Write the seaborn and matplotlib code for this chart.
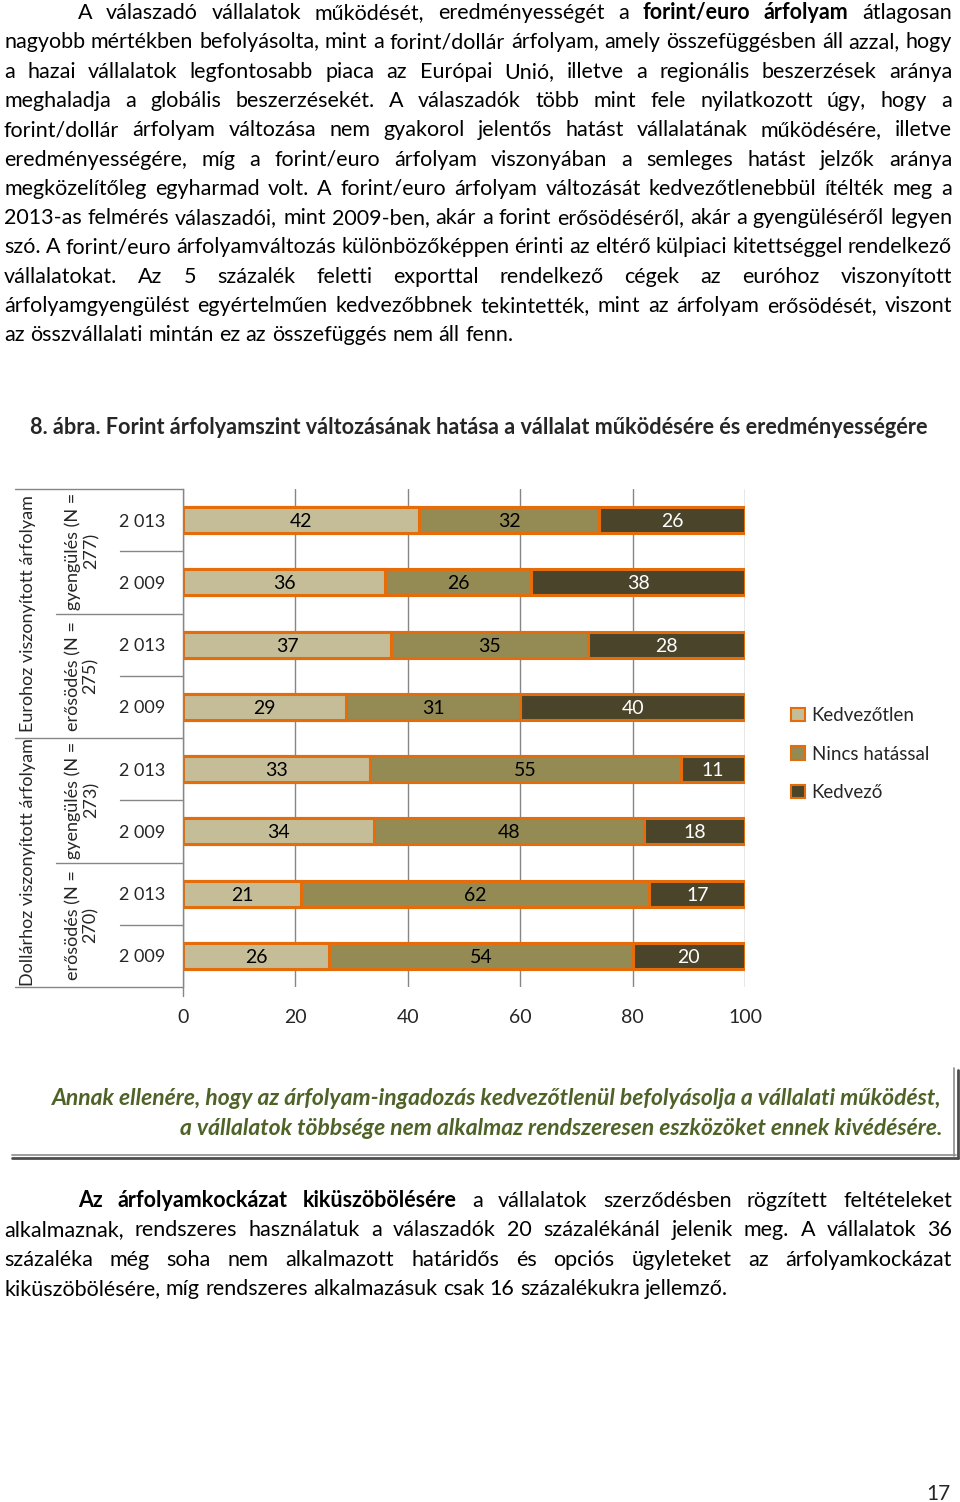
import numpy as np
import pandas as pd
import seaborn as sns
from matplotlib import pyplot as plt
from matplotlib.patches import Patch
from matplotlib.transforms import blended_transform_factory

# Chart data (percent of respondents), rows top to bottom
rows = ["eur_gy_2013", "eur_gy_2009", "eur_er_2013", "eur_er_2009",
        "usd_gy_2013", "usd_gy_2009", "usd_er_2013", "usd_er_2009"]
years = ["2 013", "2 009", "2 013", "2 009", "2 013", "2 009", "2 013", "2 009"]
groups = ["gyengülés (N =\n277)", "erősödés (N =\n275)",
          "gyengülés (N =\n273)", "erősödés (N =\n270)"]
currencies = ["Eurohoz viszonyított árfolyam", "Dollárhoz viszonyított árfolyam"]
series = ["Kedvezőtlen", "Nincs hatással", "Kedvező"]
kedvezotlen = [42, 36, 37, 29, 33.3, 34, 21, 26]
nincs_hatassal = [32, 26, 35, 31, 55.3, 48, 62, 54]
kedvezo = [26, 38, 28, 40, 11.4, 18, 17, 20]

colors = ["#C4BD97", "#948A54", "#4A452A"]
label_colors = ["black", "black", "white"]
orange = "#E46C0A"
grid_gray = "#868686"

para1 = [
    [("A válaszadó vállalatok működését, eredményességét a", False), ("forint/euro árfolyam", True), ("átlagosan", False)],
    [("nagyobb mértékben befolyásolta, mint a forint/dollár árfolyam, amely összefüggésben áll azzal, hogy", False)],
    [("a hazai vállalatok legfontosabb piaca az Európai Unió, illetve a regionális beszerzések aránya", False)],
    [("meghaladja a globális beszerzésekét. A válaszadók több mint fele nyilatkozott úgy, hogy a", False)],
    [("forint/dollár árfolyam változása nem gyakorol jelentős hatást vállalatának működésére, illetve", False)],
    [("eredményességére, míg a forint/euro árfolyam viszonyában a semleges hatást jelzők aránya", False)],
    [("megközelítőleg egyharmad volt. A forint/euro árfolyam változását kedvezőtlenebbül ítélték meg a", False)],
    [("2013-as felmérés válaszadói, mint 2009-ben, akár a forint erősödéséről, akár a gyengüléséről legyen", False)],
    [("szó. A forint/euro árfolyamváltozás különbözőképpen érinti az eltérő külpiaci kitettséggel rendelkező", False)],
    [("vállalatokat. Az 5 százalék feletti exporttal rendelkező cégek az euróhoz viszonyított", False)],
    [("árfolyamgyengülést egyértelműen kedvezőbbnek tekintették, mint az árfolyam erősödését, viszont", False)],
    [("az összvállalati mintán ez az összefüggés nem áll fenn.", False)],
]
para2 = [
    [("Az árfolyamkockázat kiküszöbölésére", True), ("a vállalatok szerződésben rögzített feltételeket", False)],
    [("alkalmaznak, rendszeres használatuk a válaszadók 20 százalékánál jelenik meg. A vállalatok 36", False)],
    [("százaléka még soha nem alkalmazott határidős és opciós ügyleteket az árfolyamkockázat", False)],
    [("kiküszöbölésére, míg rendszeres alkalmazásuk csak 16 százalékukra jellemző.", False)],
]
figure_title = "8. ábra. Forint árfolyamszint változásának hatása a vállalat működésére és eredményességére"
box_lines = ["Annak ellenére, hogy az árfolyam-ingadozás kedvezőtlenül befolyásolja a vállalati működést,",
             "a vállalatok többsége nem alkalmaz rendszeresen eszközöket ennek kivédésére."]

sns.set_style("white")
plt.rcParams["font.family"] = ["Lato", "DejaVu Sans"]

W, H = 960, 1502
fig = plt.figure(figsize=(W / 100, H / 100), dpi=100)
renderer = fig.canvas.get_renderer()

# page layer in pixel coordinates
page = fig.add_axes([0, 0, 1, 1])
page.set_xlim(0, W)
page.set_ylim(H, 0)
page.axis("off")


def text_width(s, size, weight="normal", style="normal"):
    t = page.text(0, 0, s, fontsize=size, fontweight=weight, fontstyle=style)
    w = t.get_window_extent(renderer).width
    t.remove()
    return w


def split_words(line):
    return [(w, b) for seg, b in line for w in seg.split()]


def paragraph(lines, baseline0, base, dy=29.3, indent=78, left=4, right=952, min_gap=4.5):
    space = text_width("a a", base) - text_width("aa", base)
    for i, line in enumerate(lines):
        words = split_words(line)
        x0 = indent if i == 0 else left
        y = baseline0 + i * dy
        last = i == len(lines) - 1
        size = base
        if not last:
            # shrink a line only when it cannot fit at the base size
            total = sum(text_width(w, base, "bold" if b else "normal") for w, b in words)
            size = min(base, base * (right - x0 - min_gap * (len(words) - 1)) / total)
        arts = [page.text(0, y, w, fontsize=size, va="baseline", ha="left",
                          fontweight="bold" if b else "normal", color="black")
                for w, b in words]
        widths = [a.get_window_extent(renderer).width for a in arts]
        gap = space if last else (right - x0 - sum(widths)) / (len(words) - 1)
        x = x0
        for a, w in zip(arts, widths):
            a.set_x(x)
            x += w + gap


paragraph(para1, 19, 15.5)
paragraph(para2, 1207, 15.5)

# figure caption, fitted to its width in the reference
cap_size = 14.5 * 895 / text_width(figure_title, 14.5, "bold")
page.text(30, 434, figure_title, fontsize=cap_size, fontweight="bold", va="baseline", ha="left")

# highlighted box text
box_size = 14.5 * 887 / text_width(box_lines[0], 14.5, "bold", "italic")
for i, line in enumerate(box_lines):
    page.text(942, 1105 + i * 30, line, fontsize=box_size, fontweight="bold", fontstyle="italic",
              color="#4F6228", va="baseline", ha="right")
page.plot([12, 956], [1155, 1155], color="#8C8C8C", lw=1.2)
page.plot([12, 958], [1158, 1158], color="#4D4D4D", lw=2)
page.plot([954, 954], [1068, 1156], color="#8C8C8C", lw=1.2)
page.plot([957.5, 957.5], [1070, 1158], color="#4D4D4D", lw=2)

page.text(951, 1500, "17", fontsize=15, ha="right", va="baseline")

# ---- stacked bar chart ----
px_left, px_right, px_top, px_bottom = 183, 745, 489, 987
ax = fig.add_axes([px_left / W, 1 - px_bottom / H, (px_right - px_left) / W, (px_bottom - px_top) / H])

df = pd.DataFrame({"row": rows, series[0]: kedvezotlen, series[1]: nincs_hatassal, series[2]: kedvezo})
cum = df[series].cumsum(axis=1)

# draw cumulative totals from the longest to the shortest so each segment shows
for s, c in zip(reversed(series), reversed(colors)):
    sns.barplot(x=cum[s], y=df["row"], order=rows, orient="h", color=c, saturation=1,
                edgecolor=orange, linewidth=2.2, width=0.42, errorbar=None, ax=ax)

for j, s in enumerate(series):
    centers = cum[s] - df[s] / 2
    for i, (cx, v) in enumerate(zip(centers, df[s])):
        ax.text(cx, i, f"{v:.0f}", ha="center", va="center_baseline", fontsize=14,
                color=label_colors[j])

ax.set_xlim(0, 100)
ax.set_ylim(len(rows) - 0.5, -0.5)
ax.set_xticks(np.arange(0, 101, 20))
ax.set_yticks(range(len(rows)))
ax.set_yticklabels(years)
ax.set_xlabel("")
ax.set_ylabel("")
ax.tick_params(axis="y", length=0, pad=13, labelsize=13)
ax.tick_params(axis="x", length=0, pad=16, labelsize=14)
ax.xaxis.grid(True, color=grid_gray, lw=1)
ax.set_axisbelow(True)
for side in ["top", "right", "bottom"]:
    ax.spines[side].set_visible(False)
ax.spines["left"].set_color(grid_gray)
ax.spines["left"].set_linewidth(1)
ax.plot([0, 0], [len(rows) - 0.5, len(rows) - 0.35], color=grid_gray, lw=1, clip_on=False)

# multi-level category table on the left
trans = blended_transform_factory(ax.transAxes, ax.transData)


def frac(px):
    return (px - px_left) / (px_right - px_left)


for yb, x_from in [(-0.5, 15), (7.5, 15), (3.5, 15), (1.5, 56), (5.5, 56),
                   (0.5, 120), (2.5, 120), (4.5, 120), (6.5, 120)]:
    ax.plot([frac(x_from), 0], [yb, yb], color=grid_gray, lw=1, transform=trans, clip_on=False)

for k, g in enumerate(groups):
    ax.text(frac(82), 2 * k + 0.5, g, rotation=90, ha="center", va="center",
            multialignment="center", fontsize=13, transform=trans, linespacing=1.15)
for k, c in enumerate(currencies):
    ax.text(frac(28), 4 * k + 1.5, c, rotation=90, ha="center", va="center",
            fontsize=13, transform=trans)

handles = [Patch(facecolor=c, edgecolor=orange, lw=1.5) for c in colors]
fig.legend(handles, series, loc="upper left", bbox_to_anchor=(791 / W, 1 - 707 / H),
           bbox_transform=fig.transFigure, frameon=False, fontsize=13.5,
           handlelength=0.75, handleheight=0.75, handletextpad=0.35,
           labelspacing=1.15, borderpad=0, borderaxespad=0)

fig.savefig("out.png", dpi=100)
